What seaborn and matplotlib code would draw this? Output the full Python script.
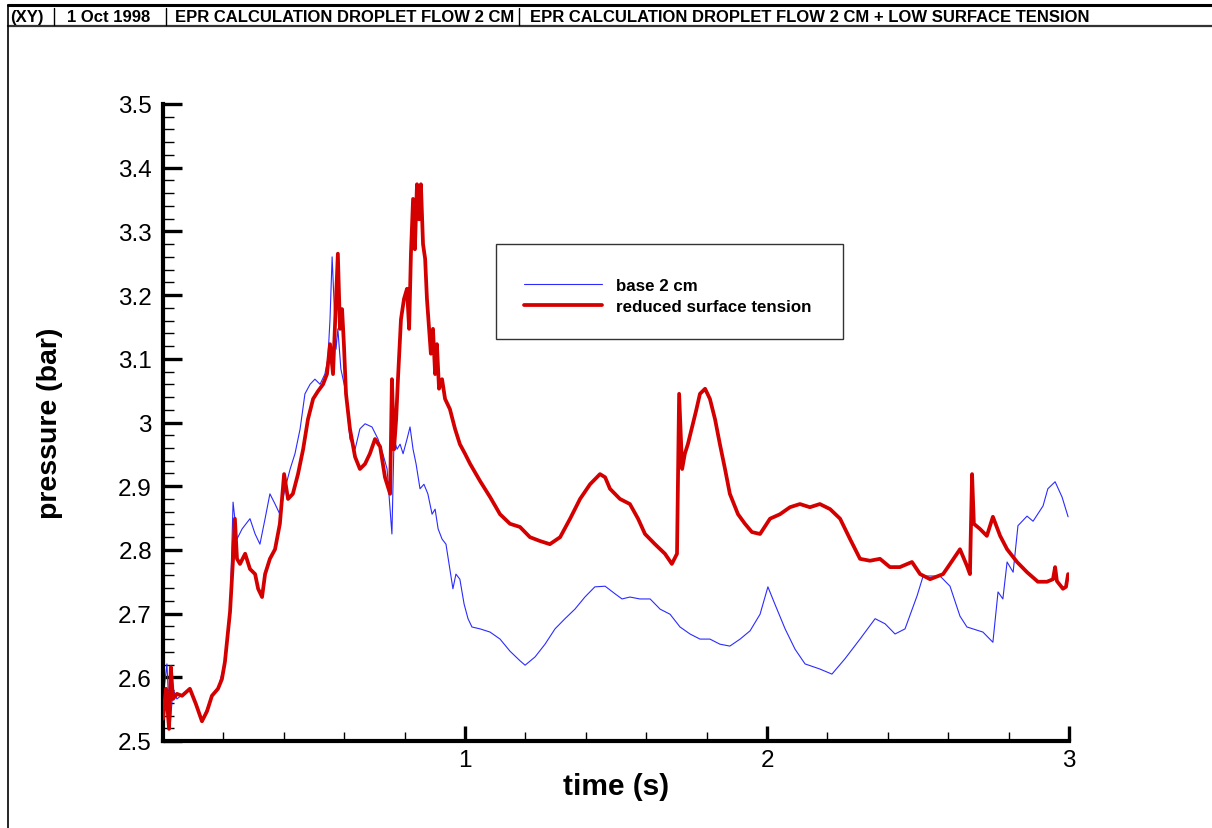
import numpy as np
import pandas as pd
import matplotlib
matplotlib.use("Agg")
import matplotlib.pyplot as plt
from matplotlib.lines import Line2D
from matplotlib.patches import Rectangle
from matplotlib.ticker import FixedLocator
import seaborn as sns

# ---------------- data ----------------
base_t = [0.000, 0.013, 0.023, 0.033, 0.046, 0.089, 0.129, 0.162, 0.182, 0.205, 0.222, 0.232,
          0.245, 0.262, 0.288, 0.305, 0.321, 0.338, 0.354, 0.371, 0.387, 0.404, 0.421, 0.437,
          0.454, 0.470, 0.487, 0.503, 0.520, 0.536, 0.546, 0.553, 0.560, 0.566, 0.573, 0.579,
          0.589, 0.603, 0.613, 0.619, 0.636, 0.652, 0.669, 0.692, 0.712, 0.728, 0.742, 0.752,
          0.758, 0.765, 0.775, 0.785, 0.795, 0.808, 0.818, 0.828, 0.838, 0.851, 0.864, 0.877,
          0.891, 0.901, 0.911, 0.924, 0.937, 0.950, 0.960, 0.970, 0.983, 0.997, 1.010, 1.023,
          1.050, 1.083, 1.116, 1.149, 1.182, 1.199, 1.232, 1.265, 1.298, 1.331, 1.364, 1.397,
          1.430, 1.464, 1.497, 1.520, 1.546, 1.579, 1.613, 1.646, 1.679, 1.712, 1.745, 1.778,
          1.811, 1.844, 1.877, 1.911, 1.944, 1.977, 2.003, 2.026, 2.060, 2.093, 2.126, 2.175,
          2.215, 2.258, 2.308, 2.358, 2.391, 2.424, 2.457, 2.497, 2.517, 2.573, 2.606, 2.639,
          2.662, 2.715, 2.748, 2.765, 2.781, 2.795, 2.815, 2.831, 2.861, 2.881, 2.914, 2.930,
          2.954, 2.977, 2.997]
base_p = [2.566, 2.621, 2.519, 2.582, 2.566, 2.582, 2.531, 2.571, 2.582, 2.624, 2.703, 2.875,
          2.817, 2.833, 2.849, 2.825, 2.809, 2.849, 2.888, 2.872, 2.856, 2.896, 2.927, 2.951,
          2.990, 3.045, 3.060, 3.068, 3.060, 3.076, 3.100, 3.162, 3.260, 3.194, 3.115, 3.147,
          3.084, 3.053, 3.005, 2.974, 2.958, 2.990, 2.998, 2.993, 2.974, 2.951, 2.927, 2.864,
          2.825, 2.974, 2.958, 2.966, 2.951, 2.974, 2.993, 2.958, 2.935, 2.896, 2.903, 2.888,
          2.856, 2.864, 2.833, 2.817, 2.809, 2.770, 2.739, 2.762, 2.754, 2.715, 2.692, 2.679,
          2.676, 2.671, 2.660, 2.641, 2.626, 2.619, 2.632, 2.652, 2.676, 2.692, 2.707, 2.726,
          2.742, 2.743, 2.731, 2.723, 2.726, 2.723, 2.723, 2.707, 2.699, 2.679, 2.668, 2.660,
          2.660, 2.652, 2.649, 2.660, 2.673, 2.699, 2.742, 2.715, 2.676, 2.644, 2.621, 2.613,
          2.605, 2.629, 2.660, 2.692, 2.684, 2.668, 2.676, 2.728, 2.759, 2.759, 2.743, 2.696,
          2.679, 2.671, 2.655, 2.734, 2.723, 2.781, 2.765, 2.838, 2.853, 2.845, 2.869, 2.896,
          2.907, 2.883, 2.852]

red_t = [0.000, 0.010, 0.020, 0.026, 0.033, 0.046, 0.063, 0.089, 0.109, 0.129, 0.146, 0.162,
         0.182, 0.195, 0.205, 0.222, 0.232, 0.238, 0.245, 0.255, 0.272, 0.288, 0.305, 0.315,
         0.328, 0.338, 0.354, 0.371, 0.387, 0.401, 0.414, 0.430, 0.447, 0.464, 0.480, 0.497,
         0.513, 0.530, 0.543, 0.553, 0.563, 0.573, 0.579, 0.586, 0.593, 0.599, 0.606, 0.619,
         0.636, 0.652, 0.669, 0.685, 0.702, 0.719, 0.735, 0.752, 0.758, 0.765, 0.772, 0.778,
         0.788, 0.798, 0.808, 0.815, 0.821, 0.828, 0.834, 0.841, 0.848, 0.854, 0.861, 0.868,
         0.874, 0.881, 0.887, 0.894, 0.901, 0.907, 0.914, 0.924, 0.934, 0.950, 0.967, 0.983,
         1.000, 1.017, 1.050, 1.083, 1.116, 1.149, 1.182, 1.215, 1.248, 1.281, 1.315, 1.348,
         1.381, 1.414, 1.447, 1.464, 1.480, 1.513, 1.546, 1.573, 1.596, 1.629, 1.662, 1.685,
         1.702, 1.709, 1.719, 1.728, 1.738, 1.752, 1.765, 1.778, 1.795, 1.811, 1.828, 1.844,
         1.861, 1.877, 1.904, 1.927, 1.950, 1.977, 2.010, 2.043, 2.076, 2.109, 2.142, 2.175,
         2.209, 2.242, 2.275, 2.308, 2.341, 2.374, 2.407, 2.440, 2.480, 2.507, 2.540, 2.583,
         2.599, 2.639, 2.662, 2.672, 2.679, 2.685, 2.705, 2.728, 2.748, 2.772, 2.795, 2.828,
         2.861, 2.897, 2.927, 2.947, 2.954, 2.960, 2.980, 2.990, 2.997]
red_p = [2.535, 2.582, 2.519, 2.616, 2.566, 2.574, 2.571, 2.582, 2.558, 2.531, 2.547, 2.571,
         2.582, 2.597, 2.624, 2.703, 2.786, 2.849, 2.786, 2.778, 2.794, 2.770, 2.762, 2.739,
         2.726, 2.762, 2.786, 2.801, 2.841, 2.919, 2.880, 2.888, 2.919, 2.958, 3.005, 3.037,
         3.049, 3.060, 3.076, 3.123, 3.076, 3.194, 3.265, 3.147, 3.178, 3.123, 3.045, 2.990,
         2.946, 2.927, 2.935, 2.951, 2.974, 2.962, 2.914, 2.888, 3.068, 2.958, 3.005, 3.068,
         3.162, 3.194, 3.210, 3.147, 3.265, 3.351, 3.272, 3.374, 3.319, 3.374, 3.280, 3.257,
         3.194, 3.147, 3.108, 3.147, 3.076, 3.123, 3.053, 3.068, 3.037, 3.021, 2.990, 2.966,
         2.951, 2.935, 2.908, 2.883, 2.856, 2.841, 2.836, 2.820, 2.814, 2.809, 2.820, 2.849,
         2.880, 2.903, 2.919, 2.914, 2.896, 2.880, 2.872, 2.849, 2.825, 2.809, 2.794, 2.778,
         2.794, 3.045, 2.927, 2.951, 2.966, 2.993, 3.018, 3.045, 3.053, 3.037, 3.005, 2.966,
         2.927, 2.888, 2.856, 2.841, 2.828, 2.825, 2.849, 2.856, 2.867, 2.872, 2.867, 2.872,
         2.864, 2.849, 2.817, 2.786, 2.783, 2.786, 2.773, 2.773, 2.781, 2.762, 2.754, 2.762,
         2.773, 2.801, 2.775, 2.762, 2.919, 2.841, 2.833, 2.822, 2.852, 2.822, 2.801, 2.781,
         2.765, 2.750, 2.750, 2.754, 2.773, 2.751, 2.739, 2.742, 2.762]

series_names = ["base 2 cm", "reduced surface tension"]
x_label = "time (s)"
y_label = "pressure (bar)"
x_major = [1, 2, 3]
y_major = [2.5, 2.6, 2.7, 2.8, 2.9, 3.0, 3.1, 3.2, 3.3, 3.4, 3.5]
y_major_labels = ["2.5", "2.6", "2.7", "2.8", "2.9", "3", "3.1", "3.2", "3.3", "3.4", "3.5"]
header_items = ["(XY)", "1 Oct 1998", "EPR CALCULATION DROPLET FLOW 2 CM",
                "EPR CALCULATION DROPLET FLOW 2 CM + LOW SURFACE TENSION"]

# ---------------- styling ----------------
sns.set_style("white")
plt.rcParams['font.family'] = ['Liberation Sans', 'DejaVu Sans']
plt.rcParams.update({"text.color": "black", "axes.labelcolor": "black",
                     "xtick.color": "black", "ytick.color": "black"})

W, H = 1212, 829
fig = plt.figure(figsize=(W / 100, H / 100), dpi=100)
ax = fig.add_axes([163 / W, 1 - 742 / H, (1069 - 163) / W, (742 - 105) / H])

df_base = pd.DataFrame({"t": base_t, "p": base_p})
df_red = pd.DataFrame({"t": red_t, "p": red_p})
BLUE = "#2b2bff"
RED = "#d40000"
sns.lineplot(data=df_base, x="t", y="p", ax=ax, color=BLUE, linewidth=0.8,
             estimator=None, sort=False, zorder=2)
sns.lineplot(data=df_red, x="t", y="p", ax=ax, color=RED, linewidth=2.7,
             estimator=None, sort=False, zorder=3)

ax.set_xlim(0, 3)
ax.set_ylim(2.5, 3.5)

for s in ["top", "right"]:
    ax.spines[s].set_visible(False)
for s in ["left", "bottom"]:
    ax.spines[s].set_visible(True)
    ax.spines[s].set_linewidth(3.0)
    ax.spines[s].set_color("black")

ax.xaxis.set_major_locator(FixedLocator(x_major))
ax.xaxis.set_minor_locator(FixedLocator([round(0.2 * i, 2) for i in range(1, 15) if i % 5 != 0]))
ax.yaxis.set_major_locator(FixedLocator(y_major))
ax.yaxis.set_minor_locator(FixedLocator([round(2.5 + 0.02 * i, 2) for i in range(1, 50) if i % 5 != 0]))
ax.set_yticklabels(y_major_labels)
ax.set_xticklabels([str(v) for v in x_major])

ax.tick_params(axis="y", which="major", direction="in", length=13.5, width=2.4,
               labelsize=17.5, pad=8, colors="black", left=True)
ax.tick_params(axis="y", which="minor", direction="in", length=8, width=1.0, left=True)
ax.tick_params(axis="x", which="major", direction="in", length=10.5, width=2.4,
               labelsize=17.5, pad=6, colors="black", bottom=True)
ax.tick_params(axis="x", which="minor", direction="in", length=6.5, width=1.0, bottom=True)

ax.set_xlabel(x_label, fontsize=21.5, fontweight="bold", color="black")
ax.set_ylabel(y_label, fontsize=20.5, fontweight="bold", color="black")
ax.xaxis.set_label_coords(0.5, (742 - 787) / 637)
ax.yaxis.set_label_coords((50 - 163) / 906, 0.5)
ax.xaxis.label.set_va("center")
ax.yaxis.label.set_va("center")

# legend box
fig.patches.append(Rectangle((496 / W, 1 - 340 / H), (843 - 496) / W, (340 - 245) / H,
                             transform=fig.transFigure, fill=False, edgecolor="#333333",
                             linewidth=1.0))
handles = [Line2D([], [], color=BLUE, linewidth=0.8), Line2D([], [], color=RED, linewidth=2.7)]
leg = fig.legend(handles, series_names, loc="center left",
                 bbox_to_anchor=(524 / W, 1 - 297 / H), frameon=False,
                 prop={"size": 12.2, "weight": "bold"}, handlelength=4.6, handletextpad=0.85,
                 labelspacing=0.35, borderpad=0, borderaxespad=0)
for t in leg.get_texts():
    t.set_color("black")

# header
fig.add_artist(Line2D([8 / W, 1], [1 - 6 / H, 1 - 6 / H], transform=fig.transFigure,
                      color="black", linewidth=2.2))
fig.add_artist(Line2D([8 / W, 1], [1 - 27 / H, 1 - 27 / H], transform=fig.transFigure,
                      color="#333333", linewidth=1.6))
fig.add_artist(Line2D([8 / W, 8 / W], [0, 1 - 6 / H], transform=fig.transFigure,
                      color="black", linewidth=1.2))
for xs in [54, 166, 519]:
    fig.add_artist(Line2D([xs / W, xs / W], [1 - 9 / H, 1 - 26 / H], transform=fig.transFigure,
                          color="black", linewidth=1.0))
for txt, xs in zip(header_items, [10, 67, 175, 530]):
    fig.text(xs / W, 1 - 22 / H, txt, fontsize=12, fontweight="bold", va="baseline",
             ha="left", color="black")

fig.savefig("out.png", dpi=100)
